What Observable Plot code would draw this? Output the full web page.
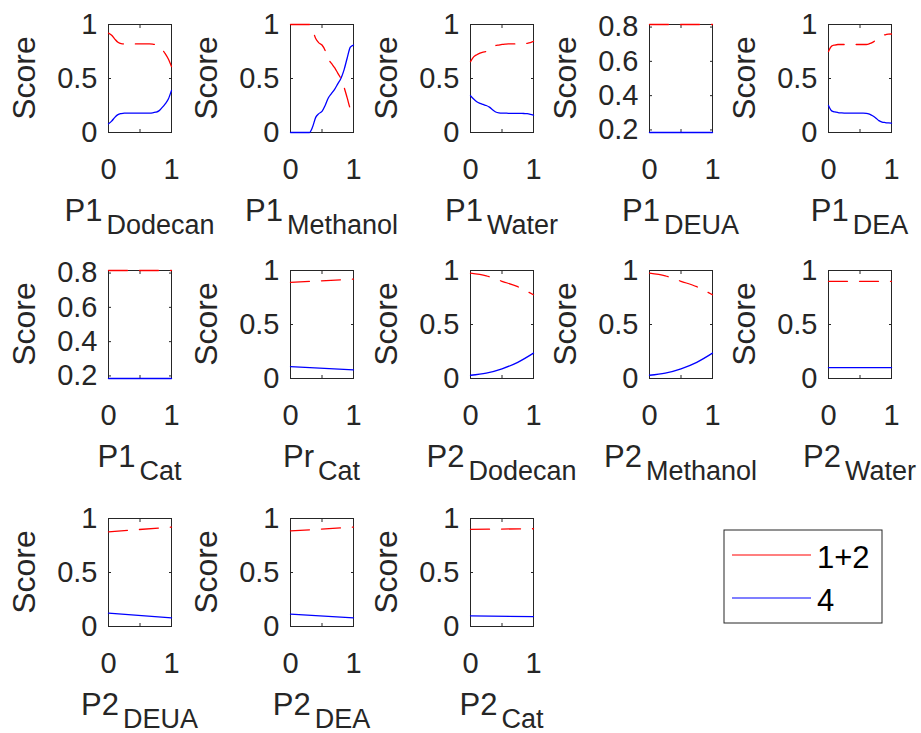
<!DOCTYPE html>
<html>
<head>
<meta charset="utf-8">
<script src="https://cdn.jsdelivr.net/npm/d3@7"></script>
<script src="https://cdn.jsdelivr.net/npm/@observablehq/plot@0.6"></script>
<style>
  body { margin: 0; background: #fff; }
  #fig { position: relative; width: 921px; height: 733px; overflow: hidden; background: #fff;
         font-family: "Liberation Sans", Arial, sans-serif; }
  #fig svg { position: absolute; overflow: visible; }
</style>
</head>
<body>
<div id="fig"></div>
<script>
// ---------- data ----------
const xFine = [0,0.05,0.1,0.15,0.2,0.25,0.3,0.35,0.4,0.45,0.5,0.55,0.6,0.65,0.7,0.75,0.8,0.85,0.9,0.95,1];
const xCoarse = [0,0.25,0.5,0.75,1];
const xEnds = [0,1];

const seriesNames = ["1+2", "4"];
const seriesColors = ["#ff0000", "#0000ff"];

const xTicks = [0, 0.5, 1];
const yTicksFull = [0, 0.5, 1];
const yTicksNarrow = [0.2, 0.4, 0.6, 0.8];
const domainFull = [0, 1];
const domainNarrow = [0.185, 0.815];

const yLabel = "Score";
const labelMain = ["P1","P1","P1","P1","P1","P1","Pr","P2","P2","P2","P2","P2","P2"];
const labelSub  = ["Dodecan","Methanol","Water","DEUA","DEA","Cat","Cat","Dodecan","Methanol","Water","DEUA","DEA","Cat"];

const redP1Dodecan  = [0.92,0.90,0.865,0.835,0.822,0.82,0.82,0.82,0.82,0.82,0.82,0.82,0.82,0.82,0.818,0.812,0.80,0.77,0.73,0.68,0.61];
const blueP1Dodecan = [0.08,0.105,0.14,0.165,0.175,0.18,0.18,0.18,0.18,0.18,0.18,0.18,0.18,0.18,0.182,0.188,0.20,0.23,0.265,0.31,0.39];

const redP1Methanol  = [1,1,1,1,1,1,1,0.95,0.87,0.83,0.81,0.76,0.68,0.64,0.60,0.55,0.50,0.42,0.32,0.22,0.19];
const blueP1Methanol = [0,0,0,0,0,0,0,0.05,0.14,0.175,0.195,0.25,0.32,0.36,0.40,0.45,0.50,0.58,0.69,0.79,0.81];

const redP1Water  = [0.656,0.70,0.72,0.735,0.745,0.75,0.77,0.79,0.805,0.81,0.815,0.818,0.82,0.82,0.82,0.82,0.822,0.824,0.826,0.832,0.845];
const blueP1Water = [0.34,0.31,0.285,0.27,0.26,0.25,0.235,0.21,0.19,0.182,0.18,0.18,0.178,0.178,0.178,0.178,0.177,0.176,0.174,0.168,0.16];

const redP1DEUA  = [0.815,0.815];
const blueP1DEUA = [0.185,0.185];

const redP1DEA  = [0.75,0.80,0.81,0.815,0.815,0.815,0.815,0.815,0.815,0.815,0.815,0.815,0.815,0.822,0.835,0.855,0.88,0.895,0.905,0.91,0.912];
const blueP1DEA = [0.25,0.20,0.19,0.185,0.182,0.18,0.18,0.18,0.18,0.18,0.18,0.18,0.178,0.17,0.155,0.135,0.11,0.097,0.092,0.089,0.087];

const redP1Cat  = [0.815,0.815];
const blueP1Cat = [0.185,0.185];

const redPrCat  = [0.89,0.92];
const bluePrCat = [0.11,0.08];

const redP2Dodecan  = [0.975,0.95,0.90,0.85,0.775];
const blueP2Dodecan = [0.03,0.05,0.09,0.15,0.235];

const redP2Methanol  = [0.975,0.95,0.90,0.85,0.775];
const blueP2Methanol = [0.03,0.05,0.09,0.15,0.235];

const redP2Water  = [0.90,0.90];
const blueP2Water = [0.10,0.10];

const redP2DEUA  = [0.877,0.92];
const blueP2DEUA = [0.123,0.08];

const redP2DEA  = [0.885,0.92];
const blueP2DEA = [0.115,0.08];

const redP2Cat  = [0.90,0.905];
const blueP2Cat = [0.098,0.092];

const panels = [
  {x: xFine,   red: redP1Dodecan,  blue: blueP1Dodecan,  domain: domainFull,   yTicks: yTicksFull},
  {x: xFine,   red: redP1Methanol, blue: blueP1Methanol, domain: domainFull,   yTicks: yTicksFull},
  {x: xFine,   red: redP1Water,    blue: blueP1Water,    domain: domainFull,   yTicks: yTicksFull},
  {x: xEnds,   red: redP1DEUA,     blue: blueP1DEUA,     domain: domainNarrow, yTicks: yTicksNarrow},
  {x: xFine,   red: redP1DEA,      blue: blueP1DEA,      domain: domainFull,   yTicks: yTicksFull},
  {x: xEnds,   red: redP1Cat,      blue: blueP1Cat,      domain: domainNarrow, yTicks: yTicksNarrow},
  {x: xEnds,   red: redPrCat,      blue: bluePrCat,      domain: domainFull,   yTicks: yTicksFull},
  {x: xCoarse, red: redP2Dodecan,  blue: blueP2Dodecan,  domain: domainFull,   yTicks: yTicksFull},
  {x: xCoarse, red: redP2Methanol, blue: blueP2Methanol, domain: domainFull,   yTicks: yTicksFull},
  {x: xEnds,   red: redP2Water,    blue: blueP2Water,    domain: domainFull,   yTicks: yTicksFull},
  {x: xEnds,   red: redP2DEUA,     blue: blueP2DEUA,     domain: domainFull,   yTicks: yTicksFull},
  {x: xEnds,   red: redP2DEA,      blue: blueP2DEA,      domain: domainFull,   yTicks: yTicksFull},
  {x: xEnds,   red: redP2Cat,      blue: blueP2Cat,      domain: domainFull,   yTicks: yTicksFull}
];

// ---------- layout / style ----------
const INK = "#262626";
const FONT = "'Liberation Sans', Arial, Helvetica, sans-serif";
const colX = [108, 290, 470, 649, 828];
const rowY = [24, 270, 518];
const BOX_W = 63, BOX_H = 108, ML = 108, MT = 24, MR = 10, MB = 112;
const fmtX = d => (d === 0.5 ? "" : String(d));
const fmtY = d => String(d);

const fig = document.getElementById("fig");

panels.forEach((p, i) => {
  const col = i % 5, row = Math.floor(i / 5);
  const redData = p.x.map((x, j) => ({x, y: p.red[j]}));
  const blueData = p.x.map((x, j) => ({x, y: p.blue[j]}));
  const chart = Plot.plot({
    width: ML + BOX_W + MR,
    height: MT + BOX_H + MB,
    marginLeft: ML, marginRight: MR, marginTop: MT, marginBottom: MB,
    style: {background: "transparent", color: INK, fontFamily: FONT, overflow: "visible"},
    x: {domain: [0, 1], label: null},
    y: {domain: p.domain, label: null},
    marks: [
      Plot.frame({stroke: INK, strokeWidth: 1}),
      Plot.axisX({ticks: xTicks, tickSize: -3, tickPadding: 29, tickFormat: fmtX, fontSize: 29, label: null}),
      Plot.axisX({anchor: "top", ticks: xTicks, tickSize: -3, tickFormat: () => "", label: null}),
      Plot.axisY({ticks: p.yTicks, tickSize: -3, tickPadding: 14, tickFormat: fmtY, fontSize: 29, label: null}),
      Plot.axisY({anchor: "right", ticks: p.yTicks, tickSize: -3, tickFormat: () => "", label: null}),
      Plot.line(blueData, {x: "x", y: "y", stroke: seriesColors[1], strokeWidth: 1.3, curve: "monotone-x"}),
      Plot.line(redData, {x: "x", y: "y", stroke: seriesColors[0], strokeWidth: 1.3,
                          strokeDasharray: "19,12", curve: "monotone-x"})
    ]
  });
  chart.style.left = (colX[col] - ML) + "px";
  chart.style.top = (rowY[row] - MT) + "px";
  const svg = d3.select(chart);
  // y label
  svg.append("text")
    .attr("transform", `translate(${ML - 84},${MT + BOX_H / 2}) rotate(-90)`)
    .attr("text-anchor", "middle")
    .attr("dy", "0.35em")
    .attr("font-family", FONT)
    .attr("font-size", 32)
    .attr("fill", INK)
    .text(yLabel);
  // x label with subscript
  const t = svg.append("text")
    .attr("x", ML + BOX_W / 2)
    .attr("y", MT + BOX_H + 89)
    .attr("text-anchor", "middle")
    .attr("font-family", FONT)
    .attr("font-size", 31)
    .attr("fill", INK);
  t.append("tspan").text(labelMain[i]);
  t.append("tspan").attr("dy", 13).attr("dx", 4).attr("font-size", 27).text(labelSub[i]);
  fig.appendChild(chart);
});

// ---------- legend ----------
const leg = d3.create("svg")
  .attr("width", 162).attr("height", 97)
  .style("left", "722px").style("top", "528px");
leg.append("rect").attr("x", 2).attr("y", 2).attr("width", 158).attr("height", 93)
  .attr("fill", "#fff").attr("stroke", INK).attr("stroke-width", 1);
const legY = [27, 70];
seriesNames.forEach((name, k) => {
  leg.append("line").attr("x1", 10).attr("x2", 89).attr("y1", legY[k]).attr("y2", legY[k])
    .attr("stroke", seriesColors[k]).attr("stroke-width", 1.2);
  leg.append("text").attr("x", 95).attr("y", legY[k] + 13)
    .attr("font-family", FONT).attr("font-size", 31).attr("fill", "#000").text(name);
});
fig.appendChild(leg.node());
</script>
</body>
</html>
